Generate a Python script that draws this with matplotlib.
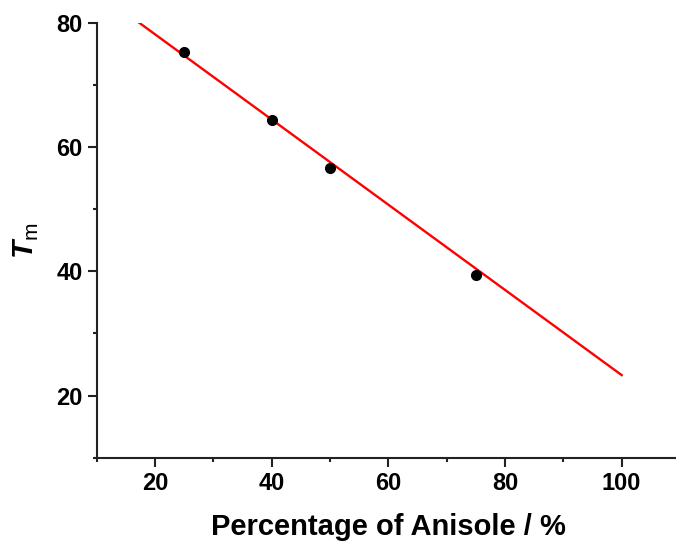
import matplotlib
matplotlib.use("Agg")
import matplotlib.pyplot as plt
import numpy as np
from matplotlib.ticker import MultipleLocator

plt.rcParams['font.family'] = ['Liberation Sans', 'DejaVu Sans']
plt.rcParams['mathtext.fontset'] = 'custom'
plt.rcParams['mathtext.rm'] = 'Liberation Sans'
plt.rcParams['mathtext.bfit'] = 'Liberation Sans:bold:italic'

# Measured melting temperatures vs anisole content
anisole_pct = [25, 40, 50, 75]
tm_values = [75.4, 64.4, 56.7, 39.5]

# Linear fit drawn across the composition range
fit_slope = -0.686
fit_intercept = 91.9
fit_range = [10, 100]

W, H = 676, 543
fig = plt.figure(figsize=(W / 100, H / 100), dpi=100)
ax = fig.add_axes([96.7 / W, (H - 457.7) / H, (680 - 96.7) / W, (457.7 - 23) / H])

fx = np.array(fit_range, dtype=float)
ax.plot(fx, fit_slope * fx + fit_intercept, color='#ff0000', lw=1.7, zorder=2)
ax.plot(anisole_pct, tm_values, 'o', color='black', ms=7, zorder=3)

ax.set_xlim(10, 110)
ax.set_ylim(10, 80)
ax.xaxis.set_major_locator(MultipleLocator(20))
ax.xaxis.set_minor_locator(MultipleLocator(10))
ax.yaxis.set_major_locator(MultipleLocator(20))
ax.yaxis.set_minor_locator(MultipleLocator(10))

for s in ['top', 'right']:
    ax.spines[s].set_visible(False)
for s in ['left', 'bottom']:
    ax.spines[s].set_linewidth(1.5)
    ax.spines[s].set_color('#222222')

ax.tick_params(which='major', direction='out', length=6.2, width=1.5, color='#222222',
               labelsize=17, pad=4)
ax.tick_params(which='minor', direction='out', length=3, width=1.5, color='#222222')
for lbl in ax.get_xticklabels() + ax.get_yticklabels():
    lbl.set_fontweight('bold')

ax.set_xlabel('Percentage of Anisole / %', fontsize=21, fontweight='bold', labelpad=13)
ax.set_ylabel(r'$\mathbfit{T}_{\mathrm{m}}$', fontsize=21.5, labelpad=11)

fig.savefig('out.png', dpi=100)
